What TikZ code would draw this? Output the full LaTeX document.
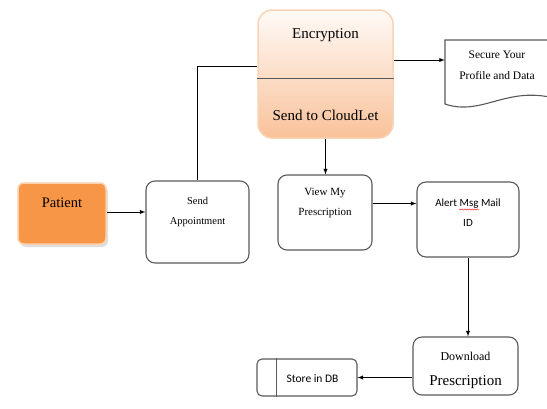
\documentclass[tikz,border=0pt]{standalone}
\usepackage{fontspec}
\setmainfont{Liberation Serif}
\newfontfamily\calib{Carlito}
\usetikzlibrary{arrows,shapes,shadows,decorations.pathmorphing}
\definecolor{patorange}{HTML}{F79646}
\definecolor{peach}{HTML}{F9C29A}
\definecolor{peachline}{HTML}{F8D3B4}
\definecolor{boxgray}{HTML}{5A5A5A}

\begin{document}
\begin{tikzpicture}
[x=1pt,y=-1pt,
 b/.style={draw=boxgray,line width=1.1pt,rounded corners=9pt,fill=white},
 t/.style={align=center,inner sep=0pt},
 c/.style={line width=.9pt,-latex}]
\useasboundingbox (0,0) rectangle (547,408);
% boxes
\node[draw=patorange!45,line width=1.5pt,fill=patorange,rounded corners=6pt,
	minimum width=88pt,minimum height=61pt,
	drop shadow={shadow xshift=2pt,shadow yshift=-3pt,fill=black!25}] (patient) at (62,213.5) {};
\node[b,minimum width=103pt,minimum height=82pt] (send) at (197.5,222) {};
\node[draw=peachline,line width=1.5pt,rounded corners=14pt,top color=peach!8,bottom color=peach,
	minimum width=135pt,minimum height=128pt] (enc) at (325.5,74) {};
\draw[boxgray,line width=1pt] ([yshift=-4pt]enc.west) -- ([yshift=-4pt]enc.east);
\node[b,minimum width=94pt,minimum height=75pt] (view) at (325,212.5) {};
\node[b,minimum width=102pt,minimum height=75pt] (alert) at (468,219.5) {};
\node[b,minimum width=105pt,minimum height=58pt] (down) at (465.5,366) {};
\node[b,rounded corners=5pt,minimum width=100pt,minimum height=37pt] (store) at (307,377.5) {};
\draw[boxgray,line width=1pt] ([xshift=20pt]store.north west) -- ([xshift=20pt]store.south west);
\draw[boxgray,line width=1.1pt,fill=white] (445,40) -- (549,40) -- (549,97)
	.. controls (505,88) and (480,116) .. (445,104) -- cycle;
% texts
\node[t,font=\fontsize{14.5}{17}\selectfont] (patient-t) at (62,203) {Patient};
\node[t,font=\fontsize{10.5}{20}\selectfont] (send-t) at (197.5,212) {Send\\Appointment};
\node[t,font=\fontsize{15}{17}\selectfont] (enc-t) at (325.5,35) {Encryption};
\node[t,font=\fontsize{15}{17}\selectfont] (cloud-t) at (325.5,115) {Send to CloudLet};
\node[t,font=\fontsize{11.5}{21}\selectfont,minimum width=104pt] (doc) at (497,65.5) {Secure Your\\Profile and Data};
\node[t,font=\fontsize{11}{20}\selectfont] (view-t) at (325,203) {View My\\Prescription};
\node[t,font=\calib\fontsize{11}{20}\selectfont] (alert-t) at (468,213) {Alert Msg Mail\\ID};
\draw[red,decorate,decoration={snake,amplitude=.6pt,segment length=2.5pt}] (459,209.5) -- (479,209.5);
\node[t,font=\fontsize{15}{25}\selectfont] (down-t) at (465.5,370) {{\fontsize{12}{14}\selectfont Download}\\Prescription};
\node[t,font=\calib\fontsize{11.5}{14}\selectfont] (store-t) at (312.5,379) {Store in DB};
% connectors
\coordinate (p1) at ([yshift=1.5pt]patient.east);
\draw[c] (p1) -- (p1 -| send.west);
\coordinate (e0) at ([yshift=8pt]enc.west);
\draw[line width=.9pt] (send.north) |- (e0);
\coordinate (e1) at ([yshift=14pt]enc.east);
\draw[c] (e1) -- (e1 -| doc.west);
\draw[c] (enc.south) -- (enc.south |- view.north);
\coordinate (v1) at ([yshift=9pt]view.east);
\draw[c] (v1) -- (v1 -| alert.west);
\draw[c] (alert.south) -- (alert.south |- down.north);
\draw[c] (down.west |- store.east) -- (store.east);
\end{tikzpicture}
\end{document}
